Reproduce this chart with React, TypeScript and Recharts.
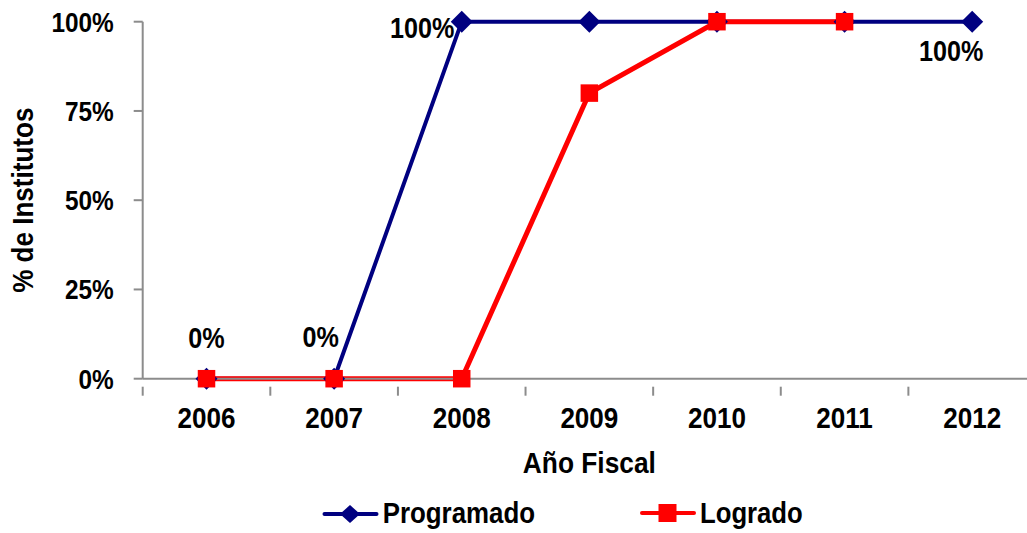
import React from "react";
import { LineChart, Line, XAxis, YAxis, LabelList, Label } from "recharts";

const years = ["2006", "2007", "2008", "2009", "2010", "2011", "2012"];
const programado = [0, 0, 100, 100, 100, 100, 100];
const logrado: (number | null)[] = [0, 0, 0, 80, 100, 100, null];
const yTicks = [0, 25, 50, 75, 100];
const seriesNames = ["Programado", "Logrado"];

const W = 1045;
const H = 533;
const LEFT = 142.7;
const RIGHT = 1036;
const TOP = 21.7;
const BOTTOM_SPACE = 60; // strip kept free under the axis title for the legend
const X_AXIS_H = H - 378.7 - BOTTOM_SPACE;
const BAND = (RIGHT - LEFT) / years.length;
const FONT = '"Liberation Sans", Arial, sans-serif';
const SX = 0.88; // squeeze Liberation Sans toward the narrow face of the original
const NAVY = "#000080";
const RED = "#ff0000";
const AXIS = "#8c8c8c";

const data = years.map((year, i) => ({
  pos: i + 0.5,
  year,
  programado: programado[i],
  logrado: logrado[i],
}));

const boundaries = years.map((_, i) => i).concat(years.length);

// where Excel put each Programado data label (text baseline), relative to its point
const labelOffsets: Record<number, [number, number]> = {
  0: [0, -31],
  1: [-13.5, -32],
  2: [-39.5, 16.5],
  6: [-21, 39.5],
};

type NTProps = { x: number; y: number; size: number; anchor?: "start" | "middle" | "end"; rotate?: boolean; children: React.ReactNode };

const NarrowText = ({ x, y, size, anchor = "middle", rotate = false, children }: NTProps) => (
  <text
    transform={`translate(${x},${y})${rotate ? " rotate(-90)" : ""} scale(${SX},1)`}
    textAnchor={anchor}
    fontFamily={FONT}
    fontWeight="bold"
    fontSize={size}
    fill="#000"
  >
    {children}
  </text>
);

const Diamond = (props: any) => {
  const { cx, cy } = props;
  if (cx == null || cy == null) return null;
  const r = 11;
  return <polygon points={`${cx},${cy - r} ${cx + r},${cy} ${cx},${cy + r} ${cx - r},${cy}`} fill={NAVY} />;
};

const Square = (props: any) => {
  const { cx, cy, value } = props;
  if (cx == null || cy == null || value == null) return null;
  const s = 17.5;
  return <rect x={cx - s / 2} y={cy - s / 2} width={s} height={s} fill={RED} />;
};

const XTick = (props: any) => {
  const { x, y, payload } = props;
  const i = payload.value as number;
  return (
    <g>
      <line x1={x} y1={y} x2={x} y2={y + 9} stroke={AXIS} strokeWidth={2} />
      {i < years.length && (
        <NarrowText x={x + BAND / 2} y={428} size={29.6}>
          {years[i]}
        </NarrowText>
      )}
    </g>
  );
};

const YTick = (props: any) => {
  const { x, y, payload } = props;
  return (
    <NarrowText x={x} y={y + 10} size={27.7} anchor="end">
      {`${payload.value}%`}
    </NarrowText>
  );
};

const renderPointLabel = (props: any) => {
  const { x, y, value, index } = props;
  const off = labelOffsets[index];
  if (!off) return null;
  return (
    <NarrowText x={x + off[0]} y={y + off[1]} size={28.6}>
      {`${value}%`}
    </NarrowText>
  );
};

const renderYLabel = (props: any) => {
  const { viewBox } = props;
  const cy = viewBox.y + viewBox.height / 2;
  return (
    <NarrowText x={33.3} y={cy} size={29.6} rotate>
      % de Institutos
    </NarrowText>
  );
};

const renderXLabel = (props: any) => {
  const { viewBox } = props;
  return (
    <NarrowText x={viewBox.x + viewBox.width / 2} y={viewBox.y + viewBox.height} size={29.9}>
      Año Fiscal
    </NarrowText>
  );
};

// legend drawn in the chart svg, below the axis title
const renderLegend = () => (
  <g className="legend">
    <line x1={324.5} y1={514} x2={376.5} y2={514} stroke={NAVY} strokeWidth={4} strokeLinecap="round" />
    <polygon points="350,505 360,514 350,523 340,514" fill={NAVY} />
    <NarrowText x={382.7} y={523.3} size={29.4} anchor="start">
      {seriesNames[0]}
    </NarrowText>
    <line x1={642} y1={513} x2={694} y2={513} stroke={RED} strokeWidth={4} strokeLinecap="round" />
    <rect x={658.5} y={504} width={18} height={18} fill={RED} />
    <NarrowText x={700} y={523.3} size={29.2} anchor="start">
      {seriesNames[1]}
    </NarrowText>
  </g>
);

export default function App() {
  return (
    <div style={{ position: "fixed", top: 0, left: 0, width: 1027, height: H, overflow: "hidden", background: "#fff" }}>
      <LineChart
        width={W}
        height={H}
        data={data}
        margin={{ top: TOP, right: W - RIGHT, left: LEFT - 142, bottom: BOTTOM_SPACE }}
      >
        <XAxis
          dataKey="pos"
          type="number"
          domain={[0, years.length]}
          ticks={boundaries}
          interval={0}
          height={X_AXIS_H}
          stroke={AXIS}
          strokeWidth={2}
          tickLine={false}
          tick={<XTick />}
        >
          <Label content={renderXLabel} />
          <Label content={renderLegend} />
        </XAxis>
        <YAxis
          domain={[0, 100]}
          ticks={yTicks}
          width={142}
          stroke={AXIS}
          strokeWidth={2}
          tickSize={9}
          tickMargin={20}
          tick={<YTick />}
          interval={0}
        >
          <Label content={renderYLabel} />
        </YAxis>
        <Line
          name={seriesNames[0]}
          dataKey="programado"
          stroke={NAVY}
          strokeWidth={4}
          dot={<Diamond />}
          activeDot={false}
          isAnimationActive={false}
        >
          <LabelList dataKey="programado" content={renderPointLabel} />
        </Line>
        <Line
          name={seriesNames[1]}
          dataKey="logrado"
          stroke={RED}
          strokeWidth={5}
          dot={<Square />}
          activeDot={false}
          connectNulls={false}
          isAnimationActive={false}
        />
      </LineChart>
    </div>
  );
}
